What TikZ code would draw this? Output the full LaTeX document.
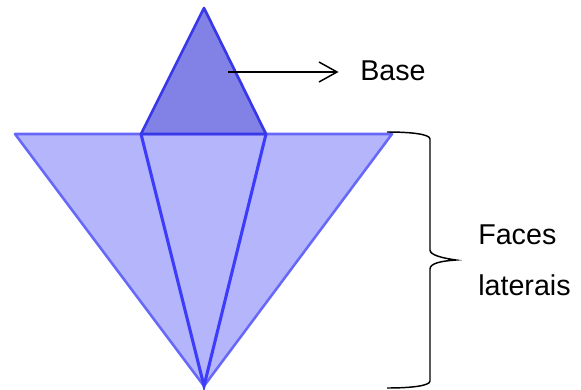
\documentclass[tikz,border=0pt]{standalone}
\usepackage{fontspec}
\setmainfont{Liberation Sans}
\definecolor{facefill}{RGB}{181,181,252}
\definecolor{facedraw}{RGB}{104,104,248}
\definecolor{basefill}{RGB}{130,130,230}
\definecolor{basedraw}{RGB}{56,56,232}
\definecolor{edgedraw}{RGB}{60,60,250}
\begin{document}
\begin{tikzpicture}[x=0.75pt,y=-0.75pt, every node/.style={font=\fontsize{21.5}{24}\selectfont,inner sep=0pt},
  face/.style={draw=facedraw,fill=facefill,line width=1.9pt,line join=round},
  base/.style={draw=basedraw,fill=basefill,line width=2pt,line join=round},
  edge/.style={draw=edgedraw,line width=2.3pt}]
\useasboundingbox (0,0) rectangle (581,389);
\coordinate (top) at (204,8);
\coordinate (bl) at (141,134);
\coordinate (br) at (266,134);
\coordinate (fl) at (15,134);
\coordinate (fr) at (392,134);
\coordinate (bot) at (204,386);
\draw[face] (fl) -- (fr) -- (bot) -- cycle;
\draw[edge] (bl) -- (bot) -- (br);
\draw[base] (top) -- (bl) -- (br) -- cycle;
\coordinate (arrowstart) at (228,72);
\node[anchor=west] (basetext) at (360,71) {Base};
\coordinate (arrowend) at (337,72);
\draw[line width=1.1pt] (arrowstart) -- (arrowend);
\draw[line width=1.1pt] (319,62) -- (arrowend) -- (319,82);
\node[anchor=west] (facestext) at (478,235) {Faces};
\node[anchor=west] (laterais) at (478,285) {laterais};
\draw[line width=1.1pt] (387,132) .. controls (410,132) and (430,134) .. (430,139) -- (430,250) .. controls (430,255) and (442,258) .. (456,260) .. controls (442,261) and (430,263) .. (430,269) -- (430,381) .. controls (430,386) and (410,388) .. (387,388);
\end{tikzpicture}
\end{document}
